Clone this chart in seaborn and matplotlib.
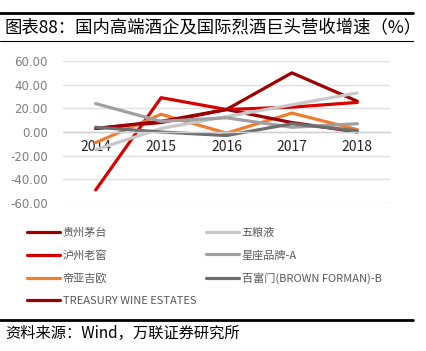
import matplotlib
matplotlib.use("Agg")
import matplotlib.pyplot as plt
import pandas as pd
import seaborn as sns

years = ["2014", "2015", "2016", "2017", "2018"]
moutai = [3, 8, 19, 50, 26]
luzhou = [-49, 29, 19, 21, 25]
diageo = [-9, 15, -1, 16, 2]
treasury = [3, 9, 19, 8, 0]
wuliangye = [-15, 3, 13, 23, 33]
constellation = [24, 9, 12, 4, 7]
brown = [4, 0, -3, 7, 1]

names = ["贵州茅台", "泸州老窖", "帝亚吉欧", "TREASURY WINE ESTATES",
         "五粮液", "星座品牌-A", "百富门(BROWN FORMAN)-B"]
series = [moutai, luzhou, diageo, treasury, wuliangye, constellation, brown]
colors = ["#A00000", "#D90000", "#ED7D31", "#9C0006",
          "#C8C8C8", "#A0A0A0", "#6E6E6E"]

rows = []
for name, vals in zip(names, series):
    for i, v in enumerate(vals):
        rows.append({"pos": i, "year": years[i], "value": v, "company": name})
df = pd.DataFrame(rows)

sns.set_style("white")
plt.rcParams["font.family"] = ["Noto Sans CJK SC", "DejaVu Sans"]

fig = plt.figure(figsize=(4.27, 3.51), dpi=100)
ax = fig.add_axes([63 / 427, 1 - 203 / 351, 327 / 427, 142 / 351])

sns.lineplot(data=df, x="pos", y="value", hue="company", hue_order=names,
             palette=colors, linewidth=2.3, sort=False, legend=False, ax=ax)

ax.set_xlim(-0.5, 4.5)
ax.set_ylim(-60, 60)
ax.set_yticks([60, 40, 20, 0, -20, -40, -60])
ax.set_yticklabels([f"{t:.2f}" for t in [60, 40, 20, 0, -20, -40, -60]],
                   color="#7F7F7F", fontsize=8.5, family="DejaVu Sans")
ax.set_xticks(range(5))
ax.set_xticklabels(years, color="#7F7F7F", fontsize=8.5, family="DejaVu Sans")
ax.set_xticks([0.5, 1.5, 2.5, 3.5, 4.5], minor=True)
ax.tick_params(axis="x", which="major", length=0, pad=6)
ax.tick_params(axis="x", which="minor", length=4, color="#D0D0D0", width=0.8)
ax.tick_params(axis="y", length=0, pad=11)
ax.set_xlabel("")
ax.set_ylabel("")
for s in ["top", "right", "left"]:
    ax.spines[s].set_visible(False)
ax.spines["bottom"].set_position(("data", 0))
ax.spines["bottom"].set_color("#D0D0D0")
ax.spines["bottom"].set_linewidth(1)
ax.yaxis.grid(True, color="#E0E0E0", linewidth=1)
ax.set_axisbelow(True)

handles = [plt.Line2D([], [], color=c, linewidth=2.3) for c in colors]
leg = fig.legend(handles, names, ncol=2, loc="upper left",
                 bbox_to_anchor=(17 / 427, 1 - 217 / 351), frameon=False,
                 fontsize=8, handlelength=3.0, handletextpad=0.2,
                 labelspacing=1.1, columnspacing=0.9)
for t in leg.get_texts():
    t.set_color("#595959")

# header and footer
fig.add_artist(plt.Line2D([0, 413 / 427], [1 - 13 / 351] * 2, color="black", linewidth=2))
fig.add_artist(plt.Line2D([0, 413 / 427], [1 - 41 / 351] * 2, color="black", linewidth=0.8))
fig.text(5 / 427, 1 - 27 / 351, "图表88：国内高端酒企及国际烈酒巨头营收增速（%）",
         fontsize=12.5, va="center", ha="left", color="black")
fig.add_artist(plt.Line2D([0, 413 / 427], [1 - 320 / 351] * 2, color="black", linewidth=2))
fig.text(5 / 427, 1 - 333 / 351, "资料来源：Wind，万联证券研究所",
         fontsize=11, va="center", ha="left", color="black", style="italic")

fig.savefig("out.png", dpi=100)
